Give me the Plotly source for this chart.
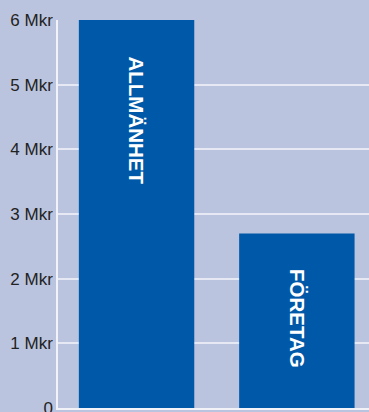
import plotly.graph_objects as go

categories = ["ALLMÄNHET", "FÖRETAG"]
values = [6.0, 2.7]
tick_vals = [0, 1, 2, 3, 4, 5, 6]
tick_text = ["0", "1 Mkr", "2 Mkr", "3 Mkr", "4 Mkr", "5 Mkr", "6 Mkr"]

BG = "#BBC4DE"
BAR = "#0059A8"

fig = go.Figure()
fig.add_trace(go.Bar(
    x=list(range(len(categories))), y=values,
    marker=dict(color=BAR, line=dict(width=0)),
    width=0.72, hoverinfo="skip",
))

for i, (c, v) in enumerate(zip(categories, values)):
    fig.add_annotation(
        x=i, y=v, xref="x", yref="y", text=f"<b>{c}</b>", showarrow=False,
        textangle=90, yanchor="top", xanchor="center", yshift=-34,
        font=dict(family="Liberation Sans, Arial, sans-serif", size=20.5, color="white"),
    )

fig.update_layout(
    width=369, height=412,
    margin=dict(l=58, r=0, t=20, b=4),
    paper_bgcolor=BG, plot_bgcolor=BG,
    showlegend=False,
    font=dict(family="Liberation Sans, Arial, sans-serif", size=17, color="#222222"),
)
fig.update_xaxes(
    range=[-0.49, 1.45], showticklabels=False, showgrid=False, zeroline=False,
    showline=True, linecolor="#F2F3F8", linewidth=1.5, automargin=False,
)
fig.update_yaxes(
    range=[0, 6], tickvals=tick_vals, ticktext=tick_text,
    showgrid=True, gridcolor="#E6E9F3", gridwidth=1.5, zeroline=False,
    showline=True, linecolor="#F2F3F8", linewidth=1.5, automargin=False,
    ticks="", ticklabelstandoff=0, ticklabeloverflow="allow",
)

fig.write_html("out.html")
